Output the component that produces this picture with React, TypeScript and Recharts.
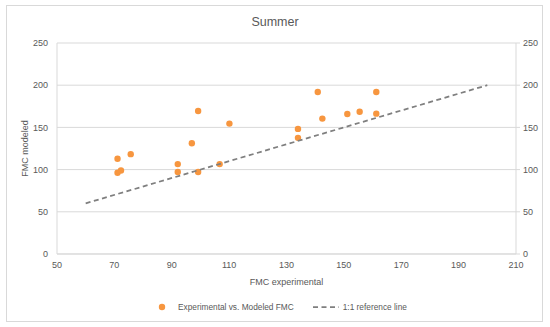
import {
  ScatterChart,
  Scatter,
  XAxis,
  YAxis,
  CartesianGrid,
  Legend,
  Label,
} from "recharts";

const fmcExperimental = [71.1, 71.1, 72.3, 75.7, 92.1, 92.1, 97.0, 99.2, 99.2, 106.7, 110.1, 134.0, 134.0, 140.9, 142.5, 151.2, 155.5, 161.3, 161.3];
const fmcModeled = [112.8, 96.3, 99.0, 118.3, 106.5, 97.1, 131.3, 169.4, 97.1, 106.5, 154.5, 148.2, 137.6, 192.0, 160.4, 165.9, 168.6, 192.0, 166.3];

const refLineX = [60, 200];
const refLineY = [60, 200];

const xTicks = [50, 70, 90, 110, 130, 150, 170, 190, 210];
const yTicks = [0, 50, 100, 150, 200, 250];

const points = fmcExperimental.map((x, i) => ({ x, y: fmcModeled[i] }));
const refLine = refLineX.map((x, i) => ({ x, y: refLineY[i] }));

const FONT = "'Liberation Sans', Arial, sans-serif";
const TEXT = "#595959";
const GRID = "#d9d9d9";
const ORANGE = "#f7963f";
const DASH = "#7f7f7f";

const Dot = (props: any) => (
  <circle cx={props.cx} cy={props.cy} r={3.2} fill={ORANGE} />
);

const renderLegend = () => (
  <div
    style={{
      display: "flex",
      alignItems: "center",
      paddingLeft: 158,
      fontSize: 8.3,
      color: TEXT,
      fontFamily: FONT,
      whiteSpace: "nowrap",
    }}
  >
    <svg width={8} height={8}>
      <circle cx={4} cy={4} r={3.2} fill={ORANGE} />
    </svg>
    <span style={{ marginLeft: 12 }}>Experimental vs. Modeled FMC</span>
    <svg width={26} height={6} style={{ marginLeft: 19 }}>
      <line x1={0} y1={3} x2={26} y2={3} stroke={DASH} strokeWidth={1.75} strokeDasharray="5 3.5" />
    </svg>
    <span style={{ marginLeft: 4 }}>1:1 reference line</span>
  </div>
);

export default function App() {
  return (
    <div
      style={{
        position: "absolute",
        left: 0,
        top: 0,
        width: 550,
        height: 327,
        background: "#fff",
        fontFamily: FONT,
      }}
    >
      <div
        style={{
          position: "absolute",
          left: 6,
          top: 5,
          width: 537,
          height: 317,
          border: "1px solid #d9d9d9",
          boxSizing: "border-box",
        }}
      />
      <div
        style={{
          position: "absolute",
          top: 15,
          left: 0,
          width: 550,
          textAlign: "center",
          fontSize: 12.5,
          color: TEXT,
        }}
      >
        Summer
      </div>
      <ScatterChart
        width={550}
        height={327}
        margin={{ top: 43, right: 0, bottom: 41, left: 0 }}
        style={{ position: "absolute", left: 0, top: 0 }}
      >
        <CartesianGrid vertical={false} stroke={GRID} yAxisId="left" />
        <XAxis
          type="number"
          dataKey="x"
          domain={[50, 210]}
          ticks={xTicks}
          height={32}
          axisLine={{ stroke: GRID }}
          tickLine={false}
          tickSize={0}
          tickMargin={8}
          tick={{ fontSize: 9, fill: TEXT, fontFamily: FONT }}
        >
          <Label
            value="FMC experimental"
            position="insideBottom"
            offset={1}
            style={{ fontSize: 9, fill: TEXT, fontFamily: FONT }}
          />
        </XAxis>
        <YAxis
          yAxisId="left"
          type="number"
          dataKey="y"
          domain={[0, 250]}
          ticks={yTicks}
          width={57}
          axisLine={{ stroke: GRID }}
          tickLine={false}
          tickSize={0}
          tickMargin={9}
          tick={{ fontSize: 9, fill: TEXT, fontFamily: FONT }}
        >
          <Label
            value="FMC modeled"
            angle={-90}
            position="insideLeft"
            offset={25}
            style={{ fontSize: 9, fill: TEXT, fontFamily: FONT, textAnchor: "middle" }}
          />
        </YAxis>
        <YAxis
          yAxisId="right"
          orientation="right"
          type="number"
          dataKey="y"
          domain={[0, 250]}
          ticks={yTicks}
          width={34}
          axisLine={{ stroke: GRID }}
          tickLine={{ stroke: GRID }}
          tickSize={4}
          tickMargin={3}
          tick={{ fontSize: 9, fill: TEXT, fontFamily: FONT }}
        />
        <Legend
          verticalAlign="middle"
          align="center"
          layout="horizontal"
          content={renderLegend}
          wrapperStyle={{ top: 302, left: 0, width: 550, height: 12 }}
        />
        <Scatter
          name="Experimental vs. Modeled FMC"
          data={points}
          yAxisId="left"
          fill={ORANGE}
          shape={Dot}
          isAnimationActive={false}
        />
        <Scatter
          name="1:1 reference line"
          data={refLine}
          yAxisId="right"
          fill={DASH}
          line={{ stroke: DASH, strokeWidth: 1.75, strokeDasharray: "5 3.5" }}
          shape={() => <g />}
          isAnimationActive={false}
        />
      </ScatterChart>
    </div>
  );
}
